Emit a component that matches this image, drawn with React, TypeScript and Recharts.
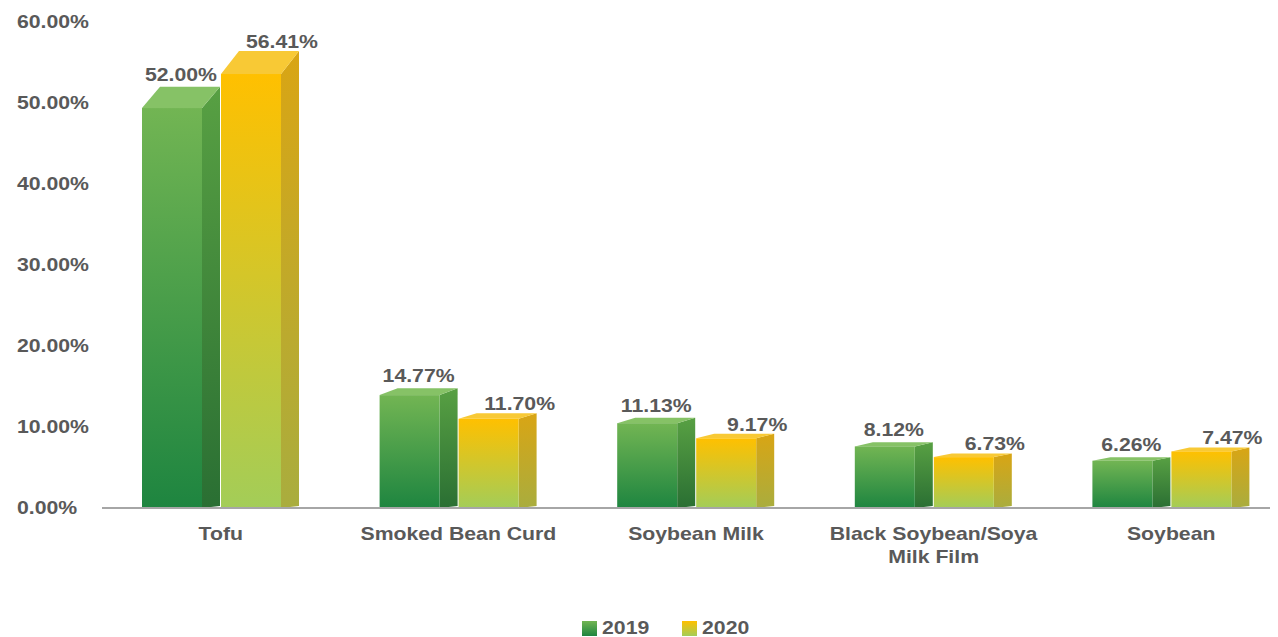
import React from 'react';
import { BarChart, Bar, XAxis, YAxis, Legend } from 'recharts';

const categories = ['Tofu', 'Smoked Bean Curd', 'Soybean Milk', 'Black Soybean/Soya Milk Film', 'Soybean'];
const tickLines = [['Tofu'], ['Smoked Bean Curd'], ['Soybean Milk'], ['Black Soybean/Soya', 'Milk Film'], ['Soybean']];
const share2019 = [52.0, 14.77, 11.13, 8.12, 6.26];
const share2020 = [56.41, 11.7, 9.17, 6.73, 7.47];
const yTicks = [0, 10, 20, 30, 40, 50, 60];

const data = categories.map((name, i) => ({ name, y2019: share2019[i], y2020: share2020[i] }));

const TEXT = '#595959';
const FONT = 'Liberation Sans, Arial, sans-serif';
const FS = 18;
const SX = 1.18; // source picture is stretched horizontally

const palette = {
  green: { front: ['#72b553', '#1e8540'], side: ['#58a043', '#2a6f33'], top: '#86c266' },
  yellow: { front: ['#ffc000', '#a3cd58'], side: ['#d9a514', '#a9ad3e'], top: '#f8c935' },
};

const Defs = () => (
  <defs>
    {Object.entries(palette).map(([k, c]) => (
      <React.Fragment key={k}>
        <linearGradient id={`${k}-front`} x1="0" y1="0" x2="0" y2="1">
          <stop offset="0%" stopColor={c.front[0]} />
          <stop offset="100%" stopColor={c.front[1]} />
        </linearGradient>
        <linearGradient id={`${k}-side`} x1="0" y1="0" x2="0" y2="1">
          <stop offset="0%" stopColor={c.side[0]} />
          <stop offset="100%" stopColor={c.side[1]} />
        </linearGradient>
      </React.Fragment>
    ))}
  </defs>
);

const DEPTH_X = 18;

const make3DBar = (key: 'green' | 'yellow') => (props: any) => {
  const { x, y, width, height } = props;
  if (!height || height <= 0) return null;
  const dy = 0.048 * height + 1;
  const fw = width - DEPTH_X;
  const base = y + height;
  const ft = y + dy;
  return (
    <g>
      <path
        d={`M${x + fw},${ft} L${x + width},${y} L${x + width},${base - 2} L${x + fw},${base} Z`}
        fill={`url(#${key}-side)`}
      />
      <path
        d={`M${x},${ft} L${x + DEPTH_X},${y} L${x + width},${y} L${x + fw},${ft} Z`}
        fill={palette[key].top}
      />
      <rect x={x} y={ft} width={fw} height={base - ft} fill={`url(#${key}-front)`} />
    </g>
  );
};

const makeLabel = (shift: number, lift: number) => (props: any) => {
  const { x, y, width, value } = props;
  const cx = x + width / 2 + shift;
  const cy = y - lift;
  return (
    <text
      transform={`translate(${cx},${cy}) scale(${SX},1)`}
      textAnchor="middle"
      fill={TEXT}
      fontFamily={FONT}
      fontWeight="bold"
      fontSize={FS}
    >
      {`${Number(value).toFixed(2)}%`}
    </text>
  );
};

const XTick = (props: any) => {
  const { x, index } = props;
  const lines = tickLines[index] || [];
  return (
    <g>
      {lines.map((line, i) => (
        <text
          key={i}
          transform={`translate(${x},${540 + i * 23}) scale(${SX},1)`}
          textAnchor="middle"
          fill={TEXT}
          fontFamily={FONT}
          fontWeight="bold"
          fontSize={FS}
        >
          {line}
        </text>
      ))}
    </g>
  );
};

const YTick = (props: any) => {
  const { y, payload } = props;
  return (
    <text
      transform={`translate(17,${y + 6}) scale(${SX},1)`}
      textAnchor="start"
      fill={TEXT}
      fontFamily={FONT}
      fontWeight="bold"
      fontSize={FS}
    >
      {`${payload.value.toFixed(2)}%`}
    </text>
  );
};

const LegendContent = () => (
  <div style={{ display: 'flex', paddingLeft: 582, fontFamily: FONT }}>
    {[
      { label: '2019', key: 'green' as const },
      { label: '2020', key: 'yellow' as const },
    ].map((item) => (
      <div key={item.label} style={{ display: 'flex', alignItems: 'center', width: 100 }}>
        <span
          style={{
            width: 15,
            height: 15,
            marginRight: 5,
            background: `linear-gradient(${palette[item.key].front[0]}, ${palette[item.key].front[1]})`,
          }}
        />
        <span
          style={{
            color: TEXT,
            fontWeight: 'bold',
            fontSize: FS,
            display: 'inline-block',
            transform: `scaleX(${SX})`,
            transformOrigin: 'left center',
          }}
        >
          {item.label}
        </span>
      </div>
    ))}
  </div>
);

export default function App() {
  return (
    <div style={{ position: 'absolute', left: 0, top: 0, background: '#fff' }}>
      <BarChart
        width={1278}
        height={637}
        data={data}
        margin={{ top: 22, right: 8, left: 0, bottom: 0 }}
        barSize={78}
        barGap={1}
      >
        <Defs />
        <XAxis
          dataKey="name"
          padding={{ left: 0, right: -20 }}
          height={99}
          axisLine={{ stroke: '#a6a6a6', strokeWidth: 2 }}
          tickLine={false}
          tick={<XTick />}
          interval={0}
        />
        <YAxis
          width={102}
          domain={[0, 60]}
          ticks={yTicks}
          axisLine={false}
          tickLine={false}
          tick={<YTick />}
        />
        <Legend
          verticalAlign="bottom"
          height={30}
          wrapperStyle={{ left: 0, top: 618, width: 1278 }}
          content={<LegendContent />}
        />
        <Bar dataKey="y2019" isAnimationActive={false} shape={make3DBar('green')} label={makeLabel(0, 6)} />
        <Bar dataKey="y2020" isAnimationActive={false} shape={make3DBar('yellow')} label={makeLabel(22, 3)} />
      </BarChart>
    </div>
  );
}
